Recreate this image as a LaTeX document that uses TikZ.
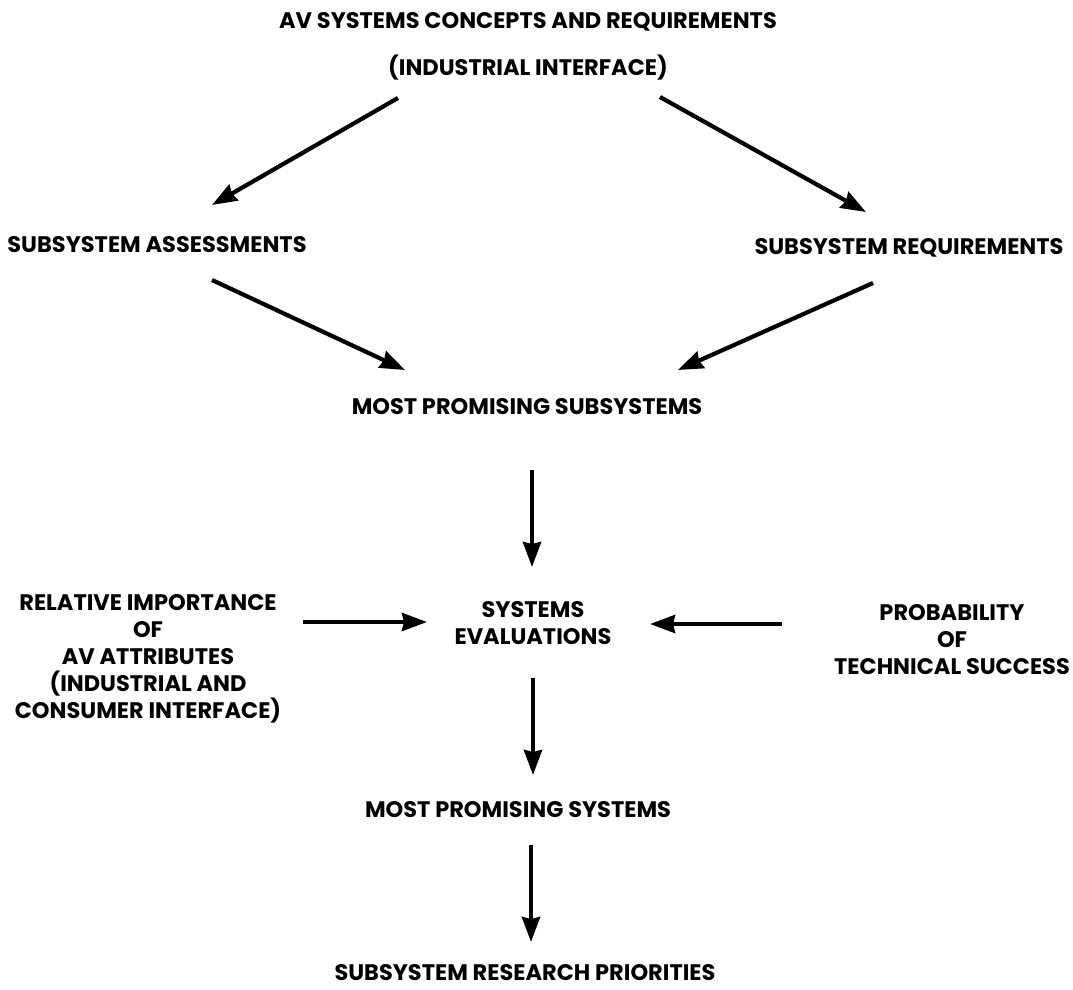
\documentclass[tikz,border=0pt]{standalone}
\usepackage{fontspec}
\setmainfont{Poppins}
\usetikzlibrary{arrows.meta,positioning}
\tikzset{stage/.style={font=\bfseries\fontsize{22.5}{27}\selectfont,align=center,inner sep=0pt},
         arrow/.style={-{Stealth[length=25pt,width=18pt,inset=2pt]},line width=4.2pt}}
\begin{document}
\begin{tikzpicture}[x=1pt,y=-1pt]
    \useasboundingbox (0,0) rectangle (1073,990);
    % Stages
    \node (top) at (528,46) [stage]{AV SYSTEMS CONCEPTS AND REQUIREMENTS\\[20pt](INDUSTRIAL INTERFACE)};
    \node (assess) at (157,245) [stage]{SUBSYSTEM ASSESSMENTS};
    \node (req) at (909,248) [stage]{SUBSYSTEM REQUIREMENTS};
    \node (subsys) at (527,407) [stage]{MOST PROMISING SUBSYSTEMS};
    \node (eval) at (533,623) [stage]{SYSTEMS\\EVALUATIONS};
    \node (attr) at (148,659) [stage]{RELATIVE IMPORTANCE\\OF\\AV ATTRIBUTES\\(INDUSTRIAL AND\\CONSUMER INTERFACE)};
    \node (prob) at (952,640) [stage]{PROBABILITY\\OF\\TECHNICAL SUCCESS};
    \node (systems) at (518,810) [stage]{MOST PROMISING SYSTEMS};
    \node (prio) at (525,973) [stage]{SUBSYSTEM RESEARCH PRIORITIES};
    % Arrows
    \draw[arrow] ([shift={(-130,52)}]top.center) -- ([shift={(55,-40)}]assess.center);
    \draw[arrow] ([shift={(132,51)}]top.center) -- ([shift={(-43,-36)}]req.center);
    \draw[arrow] ([shift={(55,35)}]assess.center) -- ([shift={(-122,-37)}]subsys.center);
    \draw[arrow] ([shift={(-36,35)}]req.center) -- ([shift={(151,-37)}]subsys.center);
    \draw[arrow] ([shift={(5,63)}]subsys.center) -- ([shift={(-1,-56)}]eval.center);
    \draw[arrow] ([shift={(155,-37)}]attr.center) -- ([shift={(-106,-1)}]eval.center);
    \draw[arrow] ([shift={(-170,-16)}]prob.center) -- ([shift={(117,1)}]eval.center);
    \draw[arrow] ([shift={(0,55)}]eval.center) -- ([shift={(15,-35)}]systems.center);
    \draw[arrow] ([shift={(13,35)}]systems.center) -- ([shift={(6,-31)}]prio.center);
  \end{tikzpicture}
\end{document}
